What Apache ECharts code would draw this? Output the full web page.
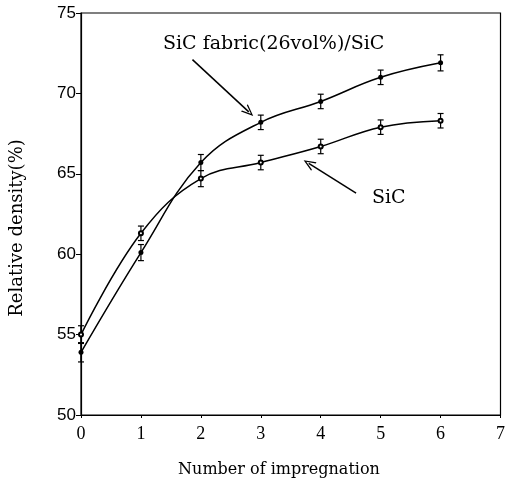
<!DOCTYPE html>
<html>
<head>
<meta charset="UTF-8" />
<title>Relative density vs number of impregnation</title>
<style>
  html, body { margin: 0; padding: 0; background: #fff; }
  #chart { width: 508px; height: 485px; }
</style>
</head>
<body>
<div id="chart"></div>
<script src="https://cdn.jsdelivr.net/npm/echarts@6/dist/echarts.min.js"></script>
<script>
  // data
  const impregnations = [0, 1, 2, 3, 4, 5, 6];
  const fabricDensity = [53.9, 60.1, 65.7, 68.2, 69.5, 71.0, 71.9];
  const fabricError = [0.6, 0.5, 0.5, 0.45, 0.45, 0.45, 0.5];
  const sicDensity = [55.0, 61.3, 64.7, 65.7, 66.7, 67.9, 68.3];
  const sicError = [0.55, 0.45, 0.5, 0.45, 0.45, 0.45, 0.45];
  const yTicks = [50, 55, 60, 65, 70, 75];

  const serif = '"DejaVu Serif"';
  // open chevron arrow head, tip at the top
  const chevron = 'path://M0,0 L5,10 L3.6,10 L0,2.6 L-3.6,10 L-5,10 Z';

  function pairs(ys) {
    return impregnations.map((x, i) => [x, ys[i]]);
  }
  function errRows(ys, es) {
    return impregnations.map((x, i) => [x, ys[i] - es[i], ys[i] + es[i]]);
  }

  // vertical error bar with small caps
  function errorBar(params, api) {
    const top = api.coord([api.value(0), api.value(2)]);
    const bot = api.coord([api.value(0), api.value(1)]);
    const cap = 3;
    const style = { stroke: '#000', lineWidth: 1.2 };
    return {
      type: 'group',
      children: [
        { type: 'line', shape: { x1: top[0], y1: top[1], x2: bot[0], y2: bot[1] }, style },
        { type: 'line', shape: { x1: top[0] - cap, y1: top[1], x2: top[0] + cap, y2: top[1] }, style },
        { type: 'line', shape: { x1: bot[0] - cap, y1: bot[1], x2: bot[0] + cap, y2: bot[1] }, style }
      ]
    };
  }

  function arrow(from, to) {
    return {
      silent: true,
      symbol: ['none', chevron],
      symbolSize: [10, 12],
      label: { show: false },
      lineStyle: { color: '#000', width: 1.5, type: 'solid' },
      itemStyle: { color: '#000' },
      data: [[{ coord: from }, { coord: to }]]
    };
  }

  const chart = echarts.init(document.getElementById('chart'));

  const option = {
    backgroundColor: '#fff',
    animation: false,
    grid: {
      left: 81, right: 6, top: 13, bottom: 70,
      show: true, borderColor: '#000', borderWidth: 1.2
    },
    xAxis: {
      type: 'value',
      min: 0, max: 7, interval: 1,
      axisLine: { lineStyle: { color: '#000', width: 1.2 } },
      axisTick: { length: 3, lineStyle: { color: '#000' } },
      axisLabel: { fontFamily: 'Liberation Serif', fontSize: 18, color: '#000', margin: 10 },
      splitLine: { show: false }
    },
    yAxis: {
      type: 'value',
      min: yTicks[0], max: yTicks[yTicks.length - 1], interval: 5,
      axisLine: { lineStyle: { color: '#000', width: 1.2 } },
      axisTick: { length: 5, lineStyle: { color: '#000' } },
      axisLabel: { fontFamily: 'Liberation Sans', fontSize: 17, color: '#000', margin: 5 },
      splitLine: { show: false }
    },
    series: [
      {
        name: 'SiC fabric(26vol%)/SiC',
        type: 'line',
        data: pairs(fabricDensity),
        smooth: 0.4,
        symbol: 'circle',
        symbolSize: 5,
        itemStyle: { color: '#000' },
        lineStyle: { color: '#000', width: 1.5 },
        markLine: arrow([1.86, 72.1], [2.8, 68.85])
      },
      {
        name: 'SiC',
        type: 'line',
        data: pairs(sicDensity),
        smooth: 0.4,
        symbol: 'emptyCircle',
        symbolSize: 4,
        itemStyle: { color: '#000', borderColor: '#000' },
        lineStyle: { color: '#000', width: 1.5 },
        markLine: arrow([4.59, 63.8], [3.8, 65.65])
      },
      {
        type: 'custom',
        renderItem: errorBar,
        data: errRows(fabricDensity, fabricError),
        encode: { x: 0, y: [1, 2] },
        z: 3
      },
      {
        type: 'custom',
        renderItem: errorBar,
        data: errRows(sicDensity, sicError),
        encode: { x: 0, y: [1, 2] },
        z: 3
      }
    ],
    graphic: [
      {
        type: 'text', left: 163, top: 35,
        style: { text: 'SiC fabric(26vol%)/SiC', font: '19px ' + serif, fill: '#000' }
      },
      {
        type: 'text', left: 372, top: 189,
        style: { text: 'SiC', font: '19px ' + serif, fill: '#000' }
      },
      {
        type: 'text', x: 279, y: 470,
        style: {
          text: 'Number of impregnation', font: '16px ' + serif, fill: '#000',
          align: 'center', verticalAlign: 'middle'
        }
      },
      {
        type: 'text', x: 17, y: 228, rotation: Math.PI / 2,
        style: {
          text: 'Relative density(%)', font: '18px ' + serif, fill: '#000',
          align: 'center', verticalAlign: 'middle'
        }
      }
    ]
  };

  chart.setOption(option);
</script>
</body>
</html>
